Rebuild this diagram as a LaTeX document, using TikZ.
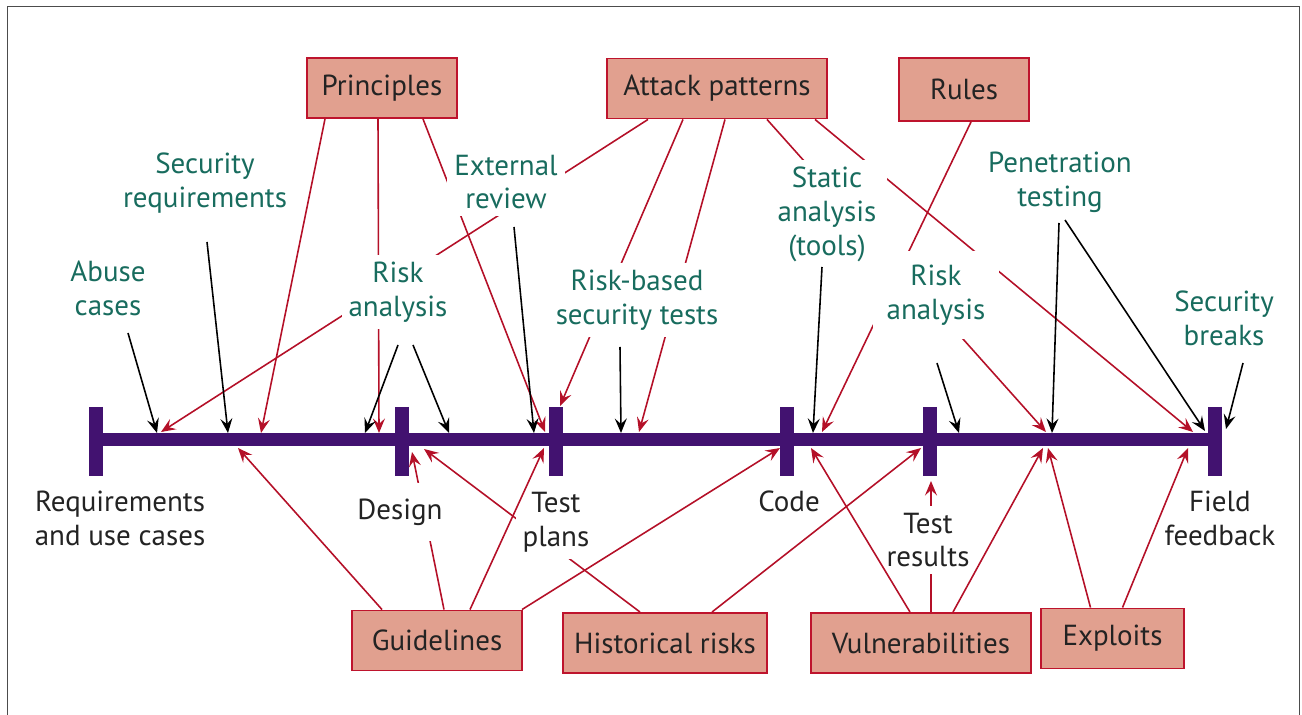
\documentclass[tikz,border=0pt]{standalone}
\usepackage{fontspec}
\setmainfont{PT Sans}
\usetikzlibrary{arrows.meta,calc}

\definecolor{tlpurple}{RGB}{66,18,112}
\definecolor{boxfill}{RGB}{225,160,143}
\definecolor{boxline}{RGB}{190,20,45}
\definecolor{actgreen}{RGB}{24,108,94}
\definecolor{arrred}{RGB}{180,16,40}
\definecolor{txtgray}{RGB}{35,35,35}

\tikzset{
  artifact/.style={draw=boxline, line width=1.1pt, fill=boxfill, text=txtgray,
    minimum height=1.2cm, inner sep=0pt},
  activity/.style={text=actgreen, fill=white, align=center, inner sep=4pt},
  phase/.style={text=txtgray, fill=white, align=center, inner sep=4pt},
  redarr/.style={arrred, line width=0.9pt, -{Stealth[length=2.9mm,width=2.4mm,inset=1.1mm]}},
  blkarr/.style={black, line width=0.9pt, -{Stealth[length=2.9mm,width=2.4mm,inset=1.1mm]}},
  timeline/.style={tlpurple, line width=0.26cm},
  phasetick/.style={tlpurple, line width=0.28cm},
  framegray/.style={black!70, line width=0.5pt}
}

\begin{document}
\begin{tikzpicture}[x=0.02cm, y=-0.02cm, every node/.style={font=\fontsize{16.5}{19.3}\selectfont}]
  \useasboundingbox (0,0) rectangle (1302,715);
  \draw[framegray] (7,715) -- (7,6) -- (1299,6) -- (1299,715);

  % Timeline and phase ticks
  \draw[timeline] (96,440) -- (1215,440);
  \foreach \x in {96, 402, 556, 787, 930, 1215}
    \draw[phasetick] (\x,407) -- (\x,476);

  % Artifacts
  \node[artifact, minimum width=3cm] (principles) at (382,88) {Principles};
  \node[artifact, minimum width=4.4cm] (attack) at (717,88.5) {Attack patterns};
  \node[artifact, minimum width=2.6cm, minimum height=1.26cm] (rules) at (964,89.5) {Rules};
  \node[artifact, minimum width=3.4cm] (guide) at (437,640.5) {Guidelines};
  \node[artifact, minimum width=4.08cm] (hist) at (665,643) {Historical risks};
  \node[artifact, minimum width=4.4cm] (vuln) at (921,643) {Vulnerabilities};
  \node[artifact, minimum width=2.86cm] (exploit) at (1112.5,638.5) {Exploits};

  % Arrow tips on the timeline (above)
  \coordinate (abuse-in) at (157,433);
  \coordinate (atk-in1) at (161,432);
  \coordinate (secreq-in) at (228,433);
  \coordinate (prin-in1) at (261,433);
  \coordinate (riskA-in1) at (365,433);
  \coordinate (prin-in2) at (379,433);
  \coordinate (riskA-in2) at (449,433);
  \coordinate (ext-in) at (534,433);
  \coordinate (prin-in3) at (545,432);
  \coordinate (atk-in2) at (560,406);
  \coordinate (rb-in) at (621,433);
  \coordinate (atk-in3) at (639,432);
  \coordinate (static-in) at (813,433);
  \coordinate (rules-in) at (822,432);
  \coordinate (riskB-in) at (959,433);
  \coordinate (atk-in4) at (1046,432);
  \coordinate (pen-in1) at (1052,433);
  \coordinate (atk-in5) at (1193,432);
  \coordinate (pen-in2) at (1205,431);
  \coordinate (breaks-in) at (1226,429);
  % Arrow tips on the timeline (below)
  \coordinate (guide-in1) at (238,448);
  \coordinate (guide-in2) at (412,452);
  \coordinate (hist-in1) at (424,449);
  \coordinate (guide-in3) at (544,448);
  \coordinate (guide-in4) at (780,448);
  \coordinate (vuln-in1) at (811,448);
  \coordinate (hist-in2) at (921,448);
  \coordinate (vuln-in2) at (931,481);
  \coordinate (vuln-in3) at (1043,448);
  \coordinate (expl-in1) at (1048,448);
  \coordinate (expl-in2) at (1188,448);

  % Connectors running behind the labels
  \draw[redarr] ($(attack.south)+(-69,0)$) -- (atk-in1);
  \draw[redarr] ($(attack.south)+(-34,0)$) -- (atk-in2);
  \draw[redarr] ($(attack.south)+(8,0)$) -- (atk-in3);
  \draw[redarr] ($(attack.south)+(50,0)$) -- (atk-in4);
  \draw[redarr] ($(attack.south)+(98,0)$) -- (atk-in5);
  \draw[redarr] ($(principles.south)+(-4,0)$) -- (prin-in2);
  \draw[redarr] ($(principles.south)+(41,0)$) -- (prin-in3);
  \draw[redarr] ($(rules.south)+(7,0)$) -- (rules-in);
  \draw[redarr] ($(guide.north)+(7,0)$) -- (guide-in2);
  \draw[redarr] ($(hist.north)+(-25,0)$) -- (hist-in1);
  \draw[redarr] ($(vuln.north)+(10,0)$) -- (vuln-in2);

  % Activities
  \node[activity] (abuse) at (108,288) {Abuse\\cases};
  \node[activity] (secreq) at (205,183) {Security\\requirements};
  \node[activity] (riskA) at (398,292) {Risk\\analysis};
  \node[activity] (extrev) at (506,182) {External\\review};
  \node[activity] (rbtests) at (637,300) {Risk-based\\security tests};
  \node[activity, inner xsep=6pt] (static) at (827,214) {Static\\analysis\\(tools)};
  \node[activity] (pentest) at (1060,182) {Penetration\\testing};
  \node[activity, inner sep=8pt] (riskB) at (936,295) {Risk\\analysis};
  \node[activity] (breaks) at (1224,318) {Security\\breaks};

  % Phases
  \node[phase] (req) at (120,518) {Requirements\\and use cases};
  \node[phase, inner ysep=9pt] (design) at (400,512) {Design};
  \node[phase] (tplan) at (556,522) {Test\\plans};
  \node[phase] (code) at (789,501) {Code};
  \node[phase] (tres) at (928,540) {Test\\results};
  \node[phase] (field) at (1220,518) {Field\\feedback};

  % Visible connectors
  \draw[redarr] ($(principles.south)+(-57,0)$) -- (prin-in1);
  \draw[blkarr] ($(abuse.center)+(20,45)$) -- (abuse-in);
  \draw[blkarr] ($(secreq.center)+(2,59)$) -- (secreq-in);
  \draw[blkarr] ($(riskA.center)+(0,53)$) -- (riskA-in1);
  \draw[blkarr] ($(riskA.center)+(15,53)$) -- (riskA-in2);
  \draw[blkarr] ($(extrev.center)+(8,45)$) -- (ext-in);
  \draw[blkarr] ($(rbtests.center)+(-17,47)$) -- (rb-in);
  \draw[blkarr] ($(static.center)+(-5,53)$) -- (static-in);
  \draw[blkarr] ($(riskB.center)+(1,68)$) -- (riskB-in);
  \draw[blkarr] ($(pentest.center)+(-1,41)$) -- (pen-in1);
  \draw[blkarr] ($(pentest.center)+(5,38)$) -- (pen-in2);
  \draw[blkarr] ($(breaks.center)+(19,45)$) -- (breaks-in);

  \draw[redarr] ($(guide.north)+(-55,0)$) -- (guide-in1);
  \draw[redarr] ($(guide.north)+(33,0)$) -- (guide-in3);
  \draw[redarr] ($(guide.north)+(85,0)$) -- (guide-in4);
  \draw[redarr] ($(hist.north)+(47,0)$) -- (hist-in2);
  \draw[redarr] ($(vuln.north)+(-11,0)$) -- (vuln-in1);
  \draw[redarr] ($(vuln.north)+(32,0)$) -- (vuln-in3);
  \draw[redarr] ($(exploit.north)+(-22,0)$) -- (expl-in1);
  \draw[redarr] ($(exploit.north)+(10,0)$) -- (expl-in2);
\end{tikzpicture}
\end{document}
